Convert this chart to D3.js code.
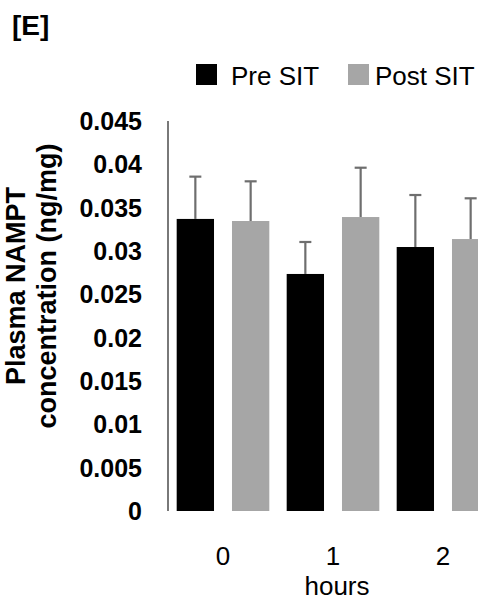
<!DOCTYPE html>
<html>
<head>
<meta charset="utf-8">
<script src="https://cdn.jsdelivr.net/npm/d3@7"></script>
<style>
  html, body { margin: 0; padding: 0; background: #fff; overflow: hidden; }
  svg { display: block; font-family: "Liberation Sans", Arial, sans-serif; }
</style>
</head>
<body>
<svg id="chart" width="478" height="601"></svg>
<script>
// ==== Data ====
const hours = ["0", "1", "2"];
const series = ["Pre SIT", "Post SIT"];
const preMean  = [0.0337, 0.02735, 0.03046];
const preErr   = [0.00488, 0.00369, 0.0060];
const postMean = [0.03346, 0.03392, 0.03138];
const postErr  = [0.00458, 0.00569, 0.0047];
const yTicks = [0, 0.005, 0.01, 0.015, 0.02, 0.025, 0.03, 0.035, 0.04, 0.045];

const colors = { "Pre SIT": "#000000", "Post SIT": "#a6a6a6" };

const rows = hours.flatMap((h, i) => [
  { hour: h, series: "Pre SIT", mean: preMean[i], err: preErr[i] },
  { hour: h, series: "Post SIT", mean: postMean[i], err: postErr[i] }
]);

// ==== Scales ====
const svg = d3.select("#chart");
const axisX = 168, y0 = 511, yTop = 121;

const x = d3.scaleBand().domain(hours).range([axisX, axisX + 330]).padding(0);
const xSub = d3.scaleBand().domain(series).range([0, x.bandwidth()])
  .paddingInner(0.325).paddingOuter(0.157);
const y = d3.scaleLinear().domain([0, 0.045]).range([y0, yTop]);

// ==== Title ====
svg.append("text")
  .attr("x", 12).attr("y", 35)
  .attr("font-size", 28).attr("font-weight", "bold")
  .text("[E]");

// ==== Legend ====
const legendItems = [
  { name: "Pre SIT", bx: 196, tx: 231 },
  { name: "Post SIT", bx: 348, tx: 375 }
];
const leg = svg.append("g");
leg.selectAll("rect").data(legendItems).join("rect")
  .attr("x", d => d.bx).attr("y", 64)
  .attr("width", 21).attr("height", 21)
  .attr("fill", d => colors[d.name]);
leg.selectAll("text").data(legendItems).join("text")
  .attr("x", d => d.tx).attr("y", 85)
  .attr("font-size", 26)
  .text(d => d.name);

// ==== Bars ====
const gBars = svg.append("g");
gBars.selectAll("rect").data(rows).join("rect")
  .attr("x", d => x(d.hour) + xSub(d.series))
  .attr("y", d => y(d.mean))
  .attr("width", xSub.bandwidth())
  .attr("height", d => y(0) - y(d.mean))
  .attr("fill", d => colors[d.series]);

// error bars (upper only)
const gErr = svg.append("g").attr("stroke", "#6e6e6e").attr("stroke-width", 2.2);
const cx = d => x(d.hour) + xSub(d.series) + xSub.bandwidth() / 2;
gErr.selectAll("line.v").data(rows).join("line").attr("class", "v")
  .attr("x1", cx).attr("x2", cx)
  .attr("y1", d => y(d.mean)).attr("y2", d => y(d.mean + d.err));
gErr.selectAll("line.c").data(rows).join("line").attr("class", "c")
  .attr("x1", d => cx(d) - 6).attr("x2", d => cx(d) + 6)
  .attr("y1", d => y(d.mean + d.err)).attr("y2", d => y(d.mean + d.err));

// ==== Y axis ====
svg.append("line")
  .attr("x1", axisX).attr("x2", axisX)
  .attr("y1", y(0.045)).attr("y2", y(0))
  .attr("stroke", "#4d4d4d").attr("stroke-width", 1.5);

svg.append("g").selectAll("text").data(yTicks).join("text")
  .attr("x", 142).attr("y", d => y(d))
  .attr("dy", "0.36em")
  .attr("text-anchor", "end")
  .attr("font-size", 25).attr("font-weight", "bold")
  .text(d => d === 0 ? "0" : String(+d.toFixed(3)));

// y title, two lines
const yTitle = svg.append("text")
  .attr("transform", "translate(0,286) rotate(-90)")
  .attr("text-anchor", "middle")
  .attr("font-size", 27).attr("font-weight", "bold");
yTitle.append("tspan").attr("x", 0).attr("y", 25).text("Plasma NAMPT");
yTitle.append("tspan").attr("x", 0).attr("y", 56).text("concentration (ng/mg)");

// ==== X labels ====
svg.append("g").selectAll("text").data(hours).join("text")
  .attr("x", d => x(d) + x.bandwidth() / 2)
  .attr("y", 565)
  .attr("text-anchor", "middle")
  .attr("font-size", 26)
  .text(d => d);

svg.append("text")
  .attr("x", 337).attr("y", 595)
  .attr("text-anchor", "middle")
  .attr("font-size", 26)
  .text("hours");
</script>
</body>
</html>
